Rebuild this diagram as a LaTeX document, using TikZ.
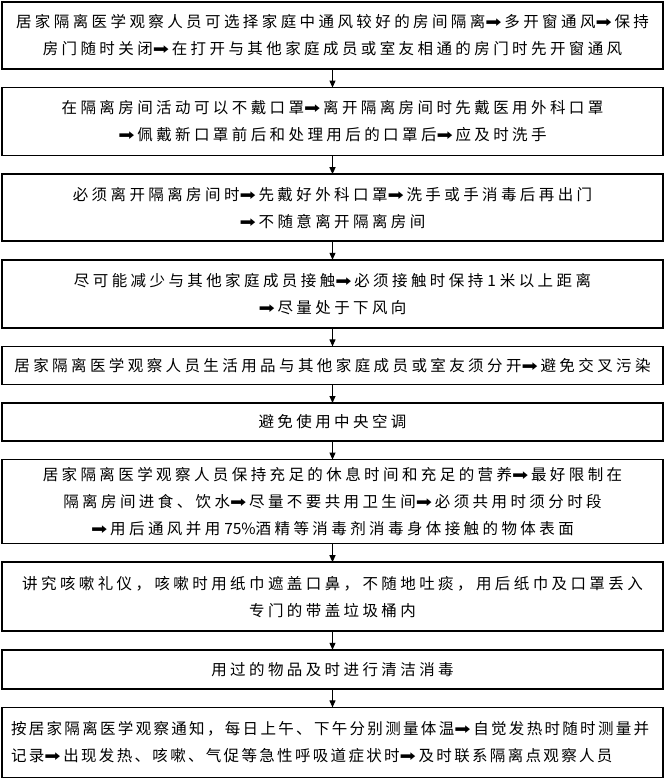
\documentclass[tikz,border=0pt]{standalone}
\usepackage{fontspec}
\usepackage{tikz}
\usetikzlibrary{arrows.meta,positioning}
\newfontfamily\cjkfont[LetterSpace=22]{Noto Sans CJK SC}
\newfontfamily\cjktight[LetterSpace=15]{Noto Sans CJK SC}
\newfontfamily\numfont{Noto Sans CJK SC}
\newfontfamily\dingfont{DejaVu Sans}
\newcommand{\nxt}{\makebox[19pt][l]{\scalebox{1.25}[1]{\dingfont ➡}}}
\newcommand{\num}[1]{\hspace{4pt}{\numfont #1}}

\begin{document}
\begin{tikzpicture}[
  x=1pt, y=1pt,
  node distance=18.6pt,
  box/.style={draw=black, line width=1.5pt, outer sep=0pt, minimum width=661pt,
              text width=643pt, inner sep=0pt, align=center,
              font=\cjkfont\fontsize{15.5}{27}\selectfont},
  arrow/.style={-{Triangle[length=7pt,width=6pt]}, line width=1pt}
]
  \useasboundingbox (0,0) rectangle (666,-784);

  \node[box, minimum height=67pt, anchor=north] (vent) at (332.5,-2)
    {居家隔离医学观察人员可选择家庭中通风较好的房间隔离\nxt 多开窗通风\nxt 保持\\房门随时关闭\nxt 在打开与其他家庭成员或室友相通的房门时先开窗通风};
  \node[box, minimum height=68pt, below=of vent] (mask)
    {在隔离房间活动可以不戴口罩\nxt 离开隔离房间时先戴医用外科口罩\\\nxt 佩戴新口罩前后和处理用后的口罩后\nxt 应及时洗手};
  \node[box, minimum height=67pt, below=of mask] (leave)
    {必须离开隔离房间时\nxt 先戴好外科口罩\nxt 洗手或手消毒后再出门\\\nxt 不随意离开隔离房间};
  \node[box, minimum height=68pt, below=of leave] (contact)
    {尽可能减少与其他家庭成员接触\nxt 必须接触时保持\num{1}\hspace{4pt}米以上距离\\\nxt 尽量处于下风向};
  \node[box, minimum height=38pt, below=of contact] (items)
    {居家隔离医学观察人员生活用品与其他家庭成员或室友须分开\nxt 避免交叉污染};
  \node[box, minimum height=38pt, below=of items] (aircon)
    {避免使用中央空调};
  \node[box, minimum height=84pt, below=of aircon] (rest)
    {居家隔离医学观察人员保持充足的休息时间和充足的营养\nxt 最好限制在\\隔离房间进食、饮水\nxt 尽量不要共用卫生间\nxt 必须共用时须分时段\\\nxt 用后通风并用\num{75\%}酒精等消毒剂消毒身体接触的物体表面};
  \node[box, minimum height=69pt, below=of rest] (cough)
    {讲究咳嗽礼仪，咳嗽时用纸巾遮盖口鼻，不随地吐痰，用后纸巾及口罩丢入\\专门的带盖垃圾桶内};
  \node[box, minimum height=39pt, below=of cough] (clean)
    {用过的物品及时进行清洁消毒};
  \node[box, minimum height=70pt, align=left, below=of clean,
        font=\cjktight\fontsize{15.5}{27}\selectfont] (temp)
    {按居家隔离医学观察通知，每日上午、下午分别测量体温\nxt 自觉发热时随时测量并\\记录\nxt 出现发热、咳嗽、气促等急性呼吸道症状时\nxt 及时联系隔离点观察人员};

  \draw[arrow] (vent) -- (mask);
  \draw[arrow] (mask) -- (leave);
  \draw[arrow] (leave) -- (contact);
  \draw[arrow] (contact) -- (items);
  \draw[arrow] (items) -- (aircon);
  \draw[arrow] (aircon) -- (rest);
  \draw[arrow] (rest) -- (cough);
  \draw[arrow] (cough) -- (clean);
  \draw[arrow] (clean) -- (temp);
\end{tikzpicture}
\end{document}
